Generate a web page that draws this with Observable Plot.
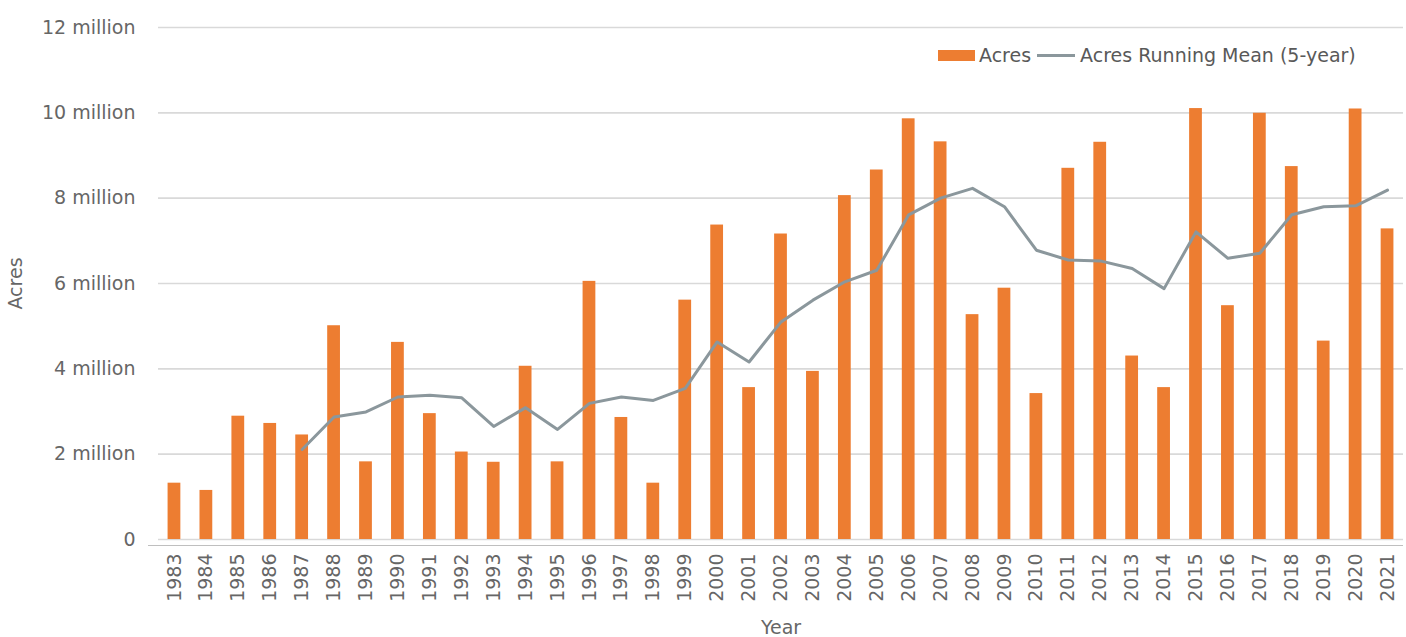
<!DOCTYPE html>
<html>
<head>
<meta charset="utf-8">
<script src="https://cdn.jsdelivr.net/npm/d3@7"></script>
<script src="https://cdn.jsdelivr.net/npm/@observablehq/plot@0.6"></script>
<style>
  html, body { margin: 0; padding: 0; background: #fff; }
  #wrap { position: relative; width: 1406px; height: 637px; font-family: "DejaVu Sans", Verdana, sans-serif; }
  #legend { position: absolute; top: 44px; left: 938px; display: flex; align-items: center; font-size: 19px; color: #595959; white-space: nowrap; }
  .sw-bar { display: inline-block; width: 37px; height: 11px; background: #ED7D31; margin-right: 4px; }
  .sw-line { display: inline-block; width: 38px; height: 3px; background: #8B979C; margin: 0 5px 0 6px; }
</style>
</head>
<body>
<div id="wrap">
  <div id="chart"></div>
  <div id="legend"><span class="sw-bar"></span><span>Acres</span><span class="sw-line"></span><span>Acres Running Mean (5-year)</span></div>
</div>
<script>
const years = ["1983","1984","1985","1986","1987","1988","1989","1990","1991","1992",
  "1993","1994","1995","1996","1997","1998","1999","2000","2001","2002",
  "2003","2004","2005","2006","2007","2008","2009","2010","2011","2012",
  "2013","2014","2015","2016","2017","2018","2019","2020","2021"];

// Acres burned, in millions
const acres = [1.32, 1.15, 2.89, 2.72, 2.45, 5.01, 1.82, 4.62, 2.95, 2.05,
  1.81, 4.06, 1.82, 6.05, 2.86, 1.32, 5.61, 7.37, 3.56, 7.16,
  3.94, 8.06, 8.66, 9.86, 9.32, 5.27, 5.89, 3.42, 8.70, 9.31,
  4.30, 3.56, 10.10, 5.48, 9.99, 8.74, 4.65, 10.09, 7.28];

// 5-year running mean, in millions (starts in 1987)
const runningMean = [null, null, null, null, 2.11, 2.87, 2.99, 3.34, 3.38, 3.32,
  2.65, 3.09, 2.58, 3.19, 3.34, 3.26, 3.54, 4.63, 4.16, 5.10,
  5.61, 6.04, 6.31, 7.61, 8.00, 8.23, 7.80, 6.78, 6.55, 6.53,
  6.35, 5.88, 7.21, 6.59, 6.71, 7.61, 7.80, 7.82, 8.19];

const yTicks = [0, 2, 4, 6, 8, 10, 12];

const fmt = d => d === 0 ? "0" : `${d} million`;

const chart = Plot.plot({
  width: 1406,
  height: 637,
  marginTop: 27,
  marginBottom: 98,
  marginLeft: 158,
  marginRight: 3,
  style: { fontFamily: "DejaVu Sans, Verdana, sans-serif", fontSize: "19px", color: "#666", background: "#fff" },
  x: { type: "band", domain: years, paddingInner: 0.6, paddingOuter: 0.3 },
  y: { domain: [0, 12] },
  marks: [
    Plot.gridY(yTicks, { stroke: "#d9d9d9", strokeOpacity: 1, strokeWidth: 1.6 }),
    Plot.ruleY([0], { stroke: "#bfbfbf", strokeWidth: 1, dy: 6, insetLeft: -10 }),
    Plot.axisY(yTicks, { tickSize: 0, tickPadding: 23, tickFormat: fmt, fontSize: 19, fill: "#666",
      label: "Acres", labelAnchor: "center", labelArrow: "none", labelOffset: 150 }),
    Plot.axisX({ tickSize: 0, tickPadding: 14, tickRotate: -90, fontSize: 19, fill: "#666",
      label: "Year", labelAnchor: "center", labelArrow: "none", labelOffset: 94 }),
    Plot.barY(acres, { x: years, y: acres, fill: "#ED7D31" }),
    Plot.line(runningMean, { x: years, y: runningMean, stroke: "#8B979C", strokeWidth: 3, strokeLinejoin: "round" })
  ]
});
document.getElementById("chart").appendChild(chart);
</script>
</body>
</html>
